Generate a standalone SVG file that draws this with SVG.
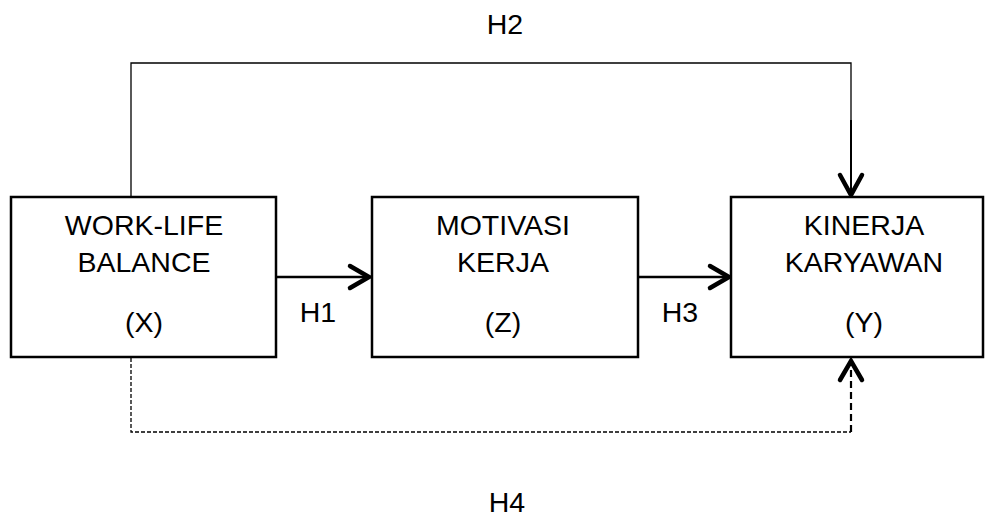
<svg xmlns="http://www.w3.org/2000/svg" width="985" height="519" viewBox="0 0 985 519">
<style>
.box{fill:#fff;stroke:#000;stroke-width:2.5}
.t{font-family:"Liberation Sans",Arial,sans-serif;font-size:28.5px;fill:#000;text-anchor:middle}
.ln{fill:none;stroke:#000}
.head{fill:none;stroke:#000;stroke-width:4.5;stroke-linecap:round;stroke-linejoin:miter}
</style>
<rect width="985" height="519" fill="#fff"/>
<g id="connectors">
<polyline class="ln" stroke-width="1.3" points="131,197 131,63 851,63 851,188"/>
<line class="ln" stroke-width="2" x1="851" y1="120" x2="851" y2="195"/>
<polyline class="head" points="840,175 851,195 862,175"/>
<line class="ln" stroke-width="2.5" x1="276" y1="277" x2="369" y2="277"/>
<polyline class="head" points="350,266 369,277 350,288"/>
<line class="ln" stroke-width="2.5" x1="638" y1="277" x2="729" y2="277"/>
<polyline class="head" points="710,266 729,277 710,288"/>
<polyline class="ln" stroke-width="1.3" stroke-dasharray="4,2" points="131,358 131,432 851,432"/>
<line class="ln" stroke-width="2.2" stroke-dasharray="7,4" x1="851" y1="432" x2="851" y2="362"/>
<polyline class="head" points="840,380 851,361 862,380"/>
</g>
<g id="node-x">
<rect class="box" x="11" y="197" width="265" height="160"/>
<text class="t" x="144" y="235">WORK-LIFE</text>
<text class="t" x="144" y="272">BALANCE</text>
<text class="t" x="144" y="332">(X)</text>
</g>
<g id="node-z">
<rect class="box" x="372" y="197" width="266" height="160"/>
<text class="t" x="503" y="235">MOTIVASI</text>
<text class="t" x="503" y="272">KERJA</text>
<text class="t" x="503" y="332">(Z)</text>
</g>
<g id="node-y">
<rect class="box" x="731" y="197" width="252" height="160"/>
<text class="t" x="864" y="235">KINERJA</text>
<text class="t" x="864" y="272">KARYAWAN</text>
<text class="t" x="864" y="332">(Y)</text>
</g>
<g id="labels">
<text class="t" x="505" y="34">H2</text>
<text class="t" x="318" y="322">H1</text>
<text class="t" x="680" y="322">H3</text>
<text class="t" x="507" y="512">H4</text>
</g>
</svg>
